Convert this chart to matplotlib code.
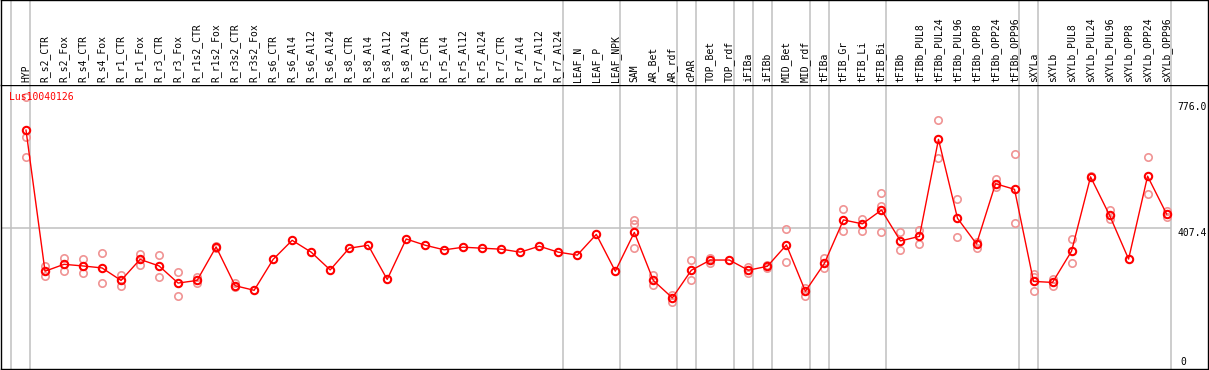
import numpy as np
import matplotlib
matplotlib.use('Agg')
import matplotlib.pyplot as plt

# sample names, one column each
samples = ['HYP', 'R_s2_CTR', 'R_s2_Fox', 'R_s4_CTR', 'R_s4_Fox', 'R_r1_CTR', 'R_r1_Fox',
           'R_r3_CTR', 'R_r3_Fox', 'R_r1s2_CTR', 'R_r1s2_Fox', 'R_r3s2_CTR', 'R_r3s2_Fox',
           'R_s6_CTR', 'R_s6_Al4', 'R_s6_Al12', 'R_s6_Al24', 'R_s8_CTR', 'R_s8_Al4',
           'R_s8_Al12', 'R_s8_Al24', 'R_r5_CTR', 'R_r5_Al4', 'R_r5_Al12', 'R_r5_Al24',
           'R_r7_CTR', 'R_r7_Al4', 'R_r7_Al12', 'R_r7_Al24', 'LEAF_N', 'LEAF_P', 'LEAF_NPK',
           'SAM', 'AR_Bet', 'AR_rdf', 'cPAR', 'TOP_Bet', 'TOP_rdf', 'iFIBa', 'iFIBb',
           'MID_Bet', 'MID_rdf', 'tFIBa', 'tFIB_Gr', 'tFIB_Li', 'tFIB_Bi', 'tFIBb',
           'tFIBb_PUL8', 'tFIBb_PUL24', 'tFIBb_PUL96', 'tFIBb_OPP8', 'tFIBb_OPP24',
           'tFIBb_OPP96', 'sXYLa', 'sXYLb', 'sXYLb_PUL8', 'sXYLb_PUL24', 'sXYLb_PUL96',
           'sXYLb_OPP8', 'sXYLb_OPP24', 'sXYLb_OPP96']

# mean expression per sample
means = [705, 276, 297, 292, 286, 248, 312, 292, 240, 248, 350, 232, 218,
         312, 370, 334, 280, 346, 355, 251, 374, 355, 341, 349, 346,
         343, 334, 352, 334, 325, 388, 276,
         394, 248, 195, 279, 310, 310, 279, 291, 356, 215,
         300, 432, 420, 462, 368,
         382, 677, 437, 359, 542, 525,
         245, 242, 337, 563, 446, 313, 565, 450]

# replicate values (faded circles)
reps = [[806, 683, 622], [292, 262], [316, 278], [312, 270], [330, 239], [266, 232],
        [328, 296], [324, 258], [273, 202], [258, 240], [353, 347], [239, 227], [],
        [], [], [], [], [], [], [], [], [], [], [], [],
        [], [], [], [], [], [], [],
        [432, 420, 347], [265, 233], [205, 182], [309, 248], [316, 302], [], [290, 270],
        [296, 285], [403, 303], [225, 202],
        [316, 285], [465, 398], [436, 398], [514, 474, 394], [395, 341],
        [401, 360], [735, 619], [495, 380], [366, 348], [557, 533], [632, 422],
        [268, 259, 215], [252, 232], [373, 300], [566, 562], [462, 434], [], [622, 510],
        [458, 441]]

# group separators sit just right of these columns
group_ends = [-1, 0, 28, 31, 34, 35, 37, 38, 39, 41, 42, 45, 52, 53, 60]

gene = 'Lus10040126'
ymax = 776.0
ymid = 407.4

W, H = 1209, 370
grey = '#c0c0c0'
mono = 'DejaVu Sans Mono'

fig = plt.figure(figsize=(W / 100, H / 100), dpi=100)
ax = fig.add_axes([1 / W, 1 / H, 1207 / W, 284 / H])
hd = fig.add_axes([1 / W, 285 / H, 1207 / W, 85 / H])

step = 19.01
xlim = ((1 - 26) / step, (1208 - 26) / step)
scale = 0.3289
ylim = ((362 - 369) / scale, (362 - 85) / scale)

x = np.arange(len(samples))
for a in (ax, hd):
    a.set_xlim(*xlim)
    a.set_xticks([])
    a.set_yticks([])
    for g in group_ends:
        a.axvline(g + 0.23, color=grey, lw=1.1, zorder=1)
    for s in a.spines.values():
        s.set_linewidth(1.0)
        s.set_color('black')
hd.set_ylim(0, 1)
hd.spines['bottom'].set_visible(False)
ax.set_ylim(*ylim)

ax.hlines(ymid, xlim[0], group_ends[-1] + 0.23, color=grey, lw=1.1, zorder=1)

for i, r in enumerate(reps):
    if r:
        ax.plot([i] * len(r), r, 'o', ms=5.3, mfc='none', mec='#f09494', mew=1.2, zorder=2)
ax.plot(x, means, '-', color='red', lw=1, zorder=3)
ax.plot(x, means, 'o', ms=5.3, mfc='none', mec='red', mew=1.5, zorder=4)

for i, name in enumerate(samples):
    hd.text(i, 0.03, name, rotation=90, ha='center', va='bottom', fontsize=7, family=mono)

ax.text(0.0066, 0.958, gene, transform=ax.transAxes, color='red', fontsize=7,
        family=mono, va='center', ha='left')
xl = group_ends[-1] + 0.55
ax.text(xl, ymax, '%.1f' % ymax, fontsize=7, family=mono, va='center', ha='left')
ax.text(xl, ymid, '%.1f' % ymid, fontsize=7, family=mono, va='top', ha='left')
ax.text(xl + 0.2, 0, '0', fontsize=7, family=mono, va='center', ha='left')

fig.savefig('out.png', dpi=100)
